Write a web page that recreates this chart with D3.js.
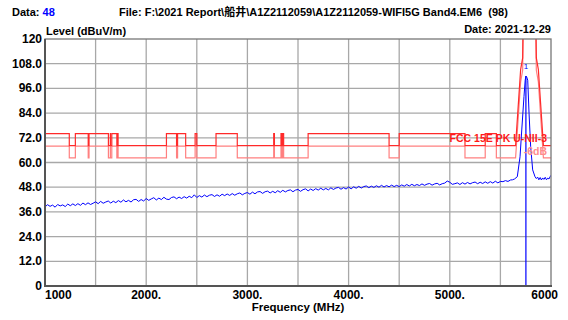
<!DOCTYPE html>
<html><head><meta charset="utf-8">
<script src="https://cdn.jsdelivr.net/npm/d3@7"></script>
<style>
html,body{margin:0;padding:0;background:#fff;}
svg{display:block;font-family:"Liberation Sans",Arial,"Noto Sans CJK SC",sans-serif;font-weight:bold;}
</style></head>
<body><svg id="c" width="568" height="320"></svg>
<script>
// ---------------- data ----------------
const xTicks = [1000,1500,2000,2500,3000,3500,4000,4500,5000,5500,6000];
const xTickLabels = ["1000","","2000.","","3000.","","4000.","","5000.","","6000"];
const yTicks = [0,12,24,36,48,60,72,84,96,108,120];
const yTickLabels = ["0","12.0","24.0","36.0","48.0","60.0","72.0","84.0","96.0","108.0","120"];

// FCC 15.205 restricted bands inside the span (MHz)
const restrictedBands = [[1000,1240],[1300,1427],[1435,1626.5],[1645.5,1646.5],[1660,1710],[1718.8,1722.2],
  [2200,2300],[2310,2390],[2483.5,2500],[2690,2900],[3260,3267],[3332,3339],[3345.8,3358],
  [3600,4400],[4500,5150],[5350,5460]];
const limitRestricted = 74;
const limitGeneral = 68.2;
const limitOffset = -6;
// U-NII-3 emission mask around the band (MHz, dBuV/m)
const maskFreq  = [5650, 5700, 5720, 5725, 5850, 5855, 5875, 5925];
const maskLevel = [68.2, 105.2, 110.8, 130, 130, 110.8, 105.2, 68.2];

// measured sweep, 1000..5600 MHz every 25 MHz
const sweepStart = 1000, sweepStep = 25;
const sweepLevel = [
 38.4,39.5,38.7,39.3,38.3,39.6,38.9,39.4,38.6,39.8,39.0,39.9,39.1,40.0,39.2,40.3,39.5,40.4,39.6,40.2,
 40.9,40.0,41.1,40.2,40.8,41.3,40.3,41.2,40.5,41.5,40.7,41.8,40.9,41.6,40.8,41.9,42.1,41.1,42.0,41.3,
 42.5,41.6,42.3,42.9,41.8,42.7,42.0,43.1,42.2,42.0,43.0,43.3,42.4,43.2,42.5,43.4,42.7,43.6,42.9,44.3,
 43.0,43.9,43.2,44.2,43.4,44.1,44.4,43.5,44.3,43.6,44.6,43.9,44.7,44.0,44.9,44.1,44.8,45.2,44.3,45.0,
 45.4,44.6,45.6,44.8,45.7,45.9,45.0,45.8,46.1,45.2,46.0,45.3,46.3,45.5,46.5,45.7,46.4,46.7,45.8,46.6,
 46.9,46.0,46.8,47.2,46.2,47.1,46.4,47.3,46.6,47.5,46.7,47.4,46.7,47.7,46.9,47.6,47.9,47.0,47.8,47.1,
 48.1,47.2,48.2,47.5,48.4,47.6,48.3,48.6,47.8,48.5,47.9,48.7,48.0,48.9,48.1,48.8,48.2,49.0,48.3,48.9,
 48.3,49.1,48.5,49.3,48.6,49.4,48.7,49.3,48.8,49.6,48.9,49.5,49.8,49.0,49.6,49.9,49.1,49.7,50.0,51.0,
 50.4,49.4,49.7,50.1,49.3,50.2,49.5,50.3,49.6,50.2,50.5,49.7,50.4,49.8,50.6,49.9,50.7,50.0,50.9,50.1,
 50.8,50.7,51.2,50.8,51.5
];
// carrier and upper part of the sweep
const peakFreq  = [5620,5640,5667,5694,5711,5733,5745,5752,5760,5770,5783,5799,5819,5842,5855,5868,5880,5893,5905,5918,5930,5943,5955,5968,5980,5990,6000];
const peakLevel = [51.6,52.0,53.1,62.8,75.8,92.0,100.0,102.0,101.5,100.0,84.0,67.7,56.4,53.1,52.2,52.9,51.6,52.7,51.5,52.5,51.8,52.8,51.6,52.4,52.0,53.0,53.8];
const markerFreq = 5752, markerLevel = 102.0, markerLabel = "1";

// ---------------- layout ----------------
const L = 45, R = 551, T = 39, B = 286;
const x = d3.scaleLinear().domain([1000,6000]).range([L,R]);
const y = d3.scaleLinear().domain([0,120]).range([B,T]);
const svg = d3.select("#c");

// header texts
const hdr = svg.append("text").attr("x",12).attr("y",16).attr("font-size",11).attr("fill","#000");
hdr.append("tspan").text("Data: ");
hdr.append("tspan").attr("fill","#0000ff").text("48");
svg.append("text").attr("x",119).attr("y",16).attr("font-size",11).attr("fill","#000")
  .text("File: F:\\2021 Report\\船井\\A1Z2112059\\A1Z2112059-WIFI5G Band4.EM6\u00a0\u00a0(98)");
svg.append("text").attr("x",46).attr("y",35).attr("font-size",11).text("Level (dBuV/m)");
svg.append("text").attr("x",R).attr("y",33).attr("font-size",11).attr("text-anchor","end").text("Date: 2021-12-29");

// grid
const g = svg.append("g");
g.selectAll(".gx").data(xTicks.slice(1,-1)).join("line")
  .attr("x1",d=>x(d)).attr("x2",d=>x(d)).attr("y1",T).attr("y2",B)
  .attr("stroke","#a8a8a8").attr("stroke-width",1.3);
g.selectAll(".gy").data(yTicks.slice(1,-1)).join("line")
  .attr("y1",d=>y(d)).attr("y2",d=>y(d)).attr("x1",L).attr("x2",R)
  .attr("stroke","#a8a8a8").attr("stroke-width",1.3);

// clip
svg.append("clipPath").attr("id","clip").append("rect").attr("x",L).attr("y",T).attr("width",R-L).attr("height",B-T);
const plot = svg.append("g").attr("clip-path","url(#clip)");

// limit line points
function limitPoints(off){
  const pts = [];
  let f = 1000;
  restrictedBands.forEach(([a,b])=>{
    const s = Math.max(a,1000);
    if (s > f){ pts.push([f,limitGeneral+off],[s,limitGeneral+off]); }
    pts.push([s,limitRestricted+off],[b,limitRestricted+off]);
    f = b;
  });
  pts.push([f,limitGeneral+off]);
  maskFreq.forEach((m,i)=>pts.push([m,maskLevel[i]+off]));
  pts.push([6000,limitGeneral+off]);
  return pts;
}
const line = d3.line().x(d=>x(d[0])).y(d=>y(d[1]));
plot.append("path").attr("d",line(limitPoints(limitOffset))).attr("fill","none")
  .attr("stroke","#ff8080").attr("stroke-width",1.2);
plot.append("path").attr("d",line(limitPoints(0))).attr("fill","none")
  .attr("stroke","#ff2a2a").attr("stroke-width",1.2);

// trace
const trace = sweepLevel.map((v,i)=>[sweepStart+i*sweepStep,v])
  .concat(peakFreq.map((f,i)=>[f,peakLevel[i]]));
plot.append("path").attr("d",line(trace)).attr("fill","none")
  .attr("stroke","#0000ff").attr("stroke-width",1);

// marker
plot.append("line").attr("x1",x(markerFreq)).attr("x2",x(markerFreq))
  .attr("y1",y(markerLevel)).attr("y2",B).attr("stroke","#0000ff").attr("stroke-width",1.2);
svg.append("text").attr("x",x(markerFreq)).attr("y",y(markerLevel)-7).attr("font-size",8)
  .attr("font-weight","normal").attr("text-anchor","middle").attr("fill","#0000ff").text(markerLabel);

// limit labels
svg.append("text").attr("x",547).attr("y",141.5).attr("font-size",10.5).attr("text-anchor","end")
  .attr("fill","#ff1a1a").text("FCC 15E PK U-NII-3");
svg.append("text").attr("x",547).attr("y",155).attr("font-size",10.5).attr("text-anchor","end")
  .attr("fill","#ff8c8c").text("-6dB");

// frame
svg.append("rect").attr("x",L).attr("y",T).attr("width",R-L).attr("height",B-T)
  .attr("fill","none").attr("stroke","#777").attr("stroke-width",1.3);
svg.append("line").attr("x1",L).attr("x2",L).attr("y1",T).attr("y2",B+1).attr("stroke","#555").attr("stroke-width",2);
svg.append("line").attr("x1",L-1).attr("x2",R+1).attr("y1",B).attr("y2",B).attr("stroke","#555").attr("stroke-width",2);

// axis labels
svg.selectAll(".yl").data(yTicks).join("text")
  .attr("x",42).attr("y",d=>y(d)+4).attr("text-anchor","end").attr("font-size",12)
  .text((d,i)=>yTickLabels[i]);
svg.selectAll(".xl").data(xTicks).join("text")
  .attr("x",(d,i)=> i===0 ? x(d) : i===xTicks.length-1 ? x(d)+7 : x(d))
  .attr("y",299).attr("font-size",12)
  .attr("text-anchor",(d,i)=> i===0 ? "start" : i===xTicks.length-1 ? "end" : "middle")
  .text((d,i)=>xTickLabels[i]);
svg.append("text").attr("x",298).attr("y",311).attr("font-size",11.5).attr("text-anchor","middle")
  .text("Frequency (MHz)");
</script></body></html>
